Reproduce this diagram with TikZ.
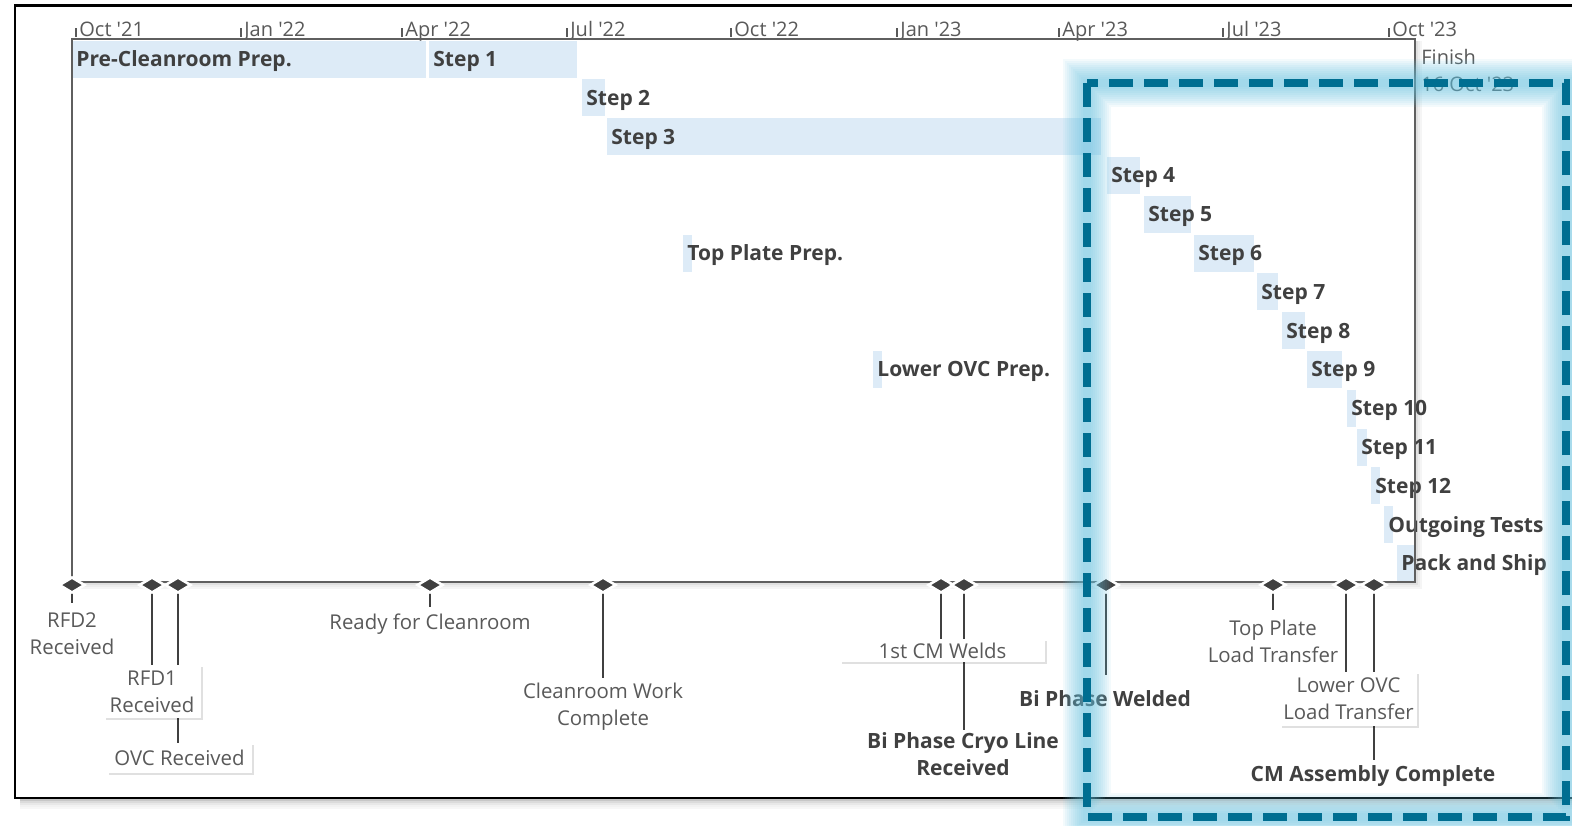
\documentclass[tikz,border=0pt]{standalone}
\usepackage{fontspec}
\setmainfont{Open Sans}[Ligatures=TeXOff]
\usetikzlibrary{shapes.geometric,shadows}
\definecolor{barblue}{RGB}{221,235,247}
\definecolor{txtdark}{RGB}{64,64,64}
\definecolor{txtgray}{RGB}{89,89,89}
\definecolor{boxline}{RGB}{95,95,95}
\definecolor{hlblue}{RGB}{0,110,145}
\definecolor{glowblue}{RGB}{100,196,226}
\pgfdeclarelayer{back}\pgfdeclarelayer{lines}\pgfdeclarelayer{front}
\pgfsetlayers{back,lines,main,front}
\newcommand\gbar[5]{%
  \fill[ganttbar] (#1,#3-18.5) rectangle (#2,#3+18.5);
  \node[steplabel] (#4) at (#1+4,#3+7.5) {#5};}
\begin{document}
\begin{tikzpicture}[x=0.5pt,y=-0.5pt,
  ganttbar/.style={fill=barblue},
  steplabel/.style={anchor=base west,inner sep=0pt,font=\fontsize{10.5}{12}\selectfont\bfseries,text=txtdark},
  axislabel/.style={anchor=base west,inner sep=0pt,font=\fontsize{10}{12}\selectfont,text=txtgray},
  axtick/.style={draw=txtgray,line width=0.6pt},
  mslabel/.style={anchor=north,inner xsep=0pt,inner ysep=#1,align=center,font=\fontsize{10.2}{13.5}\selectfont,text=txtgray},
  mslabel/.default=4pt,
  msbold/.style={mslabel=#1,font=\fontsize{10.5}{13.5}\selectfont\bfseries,text=txtdark},
  msbold/.default=4pt,
  msbox/.style={fill=white,align=center,inner sep=0pt,font=\fontsize{10.2}{13.5}\selectfont,text=txtgray,
    drop shadow={fill=black,opacity=0.12,shadow xshift=1.2pt,shadow yshift=-1.2pt}},
  msdiamond/.style={diamond,fill=txtdark,draw=white,line width=1.3pt,minimum width=13pt,minimum height=8pt,inner sep=0pt},
  leader/.style={draw=txtdark,line width=0.7pt},
  chartbox/.style={draw=boxline,line width=0.8pt},
  glowline/.style={draw=glowblue,line width=#1,opacity=0.075},
  hldash/.style={draw=hlblue,line width=3.6pt,dash pattern=on 12pt off 5.5pt}
]
\useasboundingbox (0,0) rectangle (1572,825);
\begin{pgfonlayer}{back}
  \fill[white] (0,0) rectangle (1572,825);
  \foreach \s/\o in {2/0.22,4/0.14,6/0.09,8/0.05,10/0.03}
    \draw[black,line width=1.2pt,opacity=\o] (20,798+\s) -- (1600,798+\s);
  \foreach \s/\o in {2/0.12,4/0.07,6/0.04}
    \draw[black,line width=1pt,opacity=\o] (74,582+\s) -- (1415+\s,582+\s) -- (1415+\s,41);
\end{pgfonlayer}
% outer frame
\draw[black,line width=1.25pt] (1600,5.5) -- (15,5.5) -- (15,798) -- (1600,798);
% axis labels
\foreach \x/\t [count=\i] in {76/Oct '21,241/Jan '22,402/Apr '22,567/Jul '22,731/Oct '22,897/Jan '23,1059/Apr '23,1223/Jul '23,1389/Oct '23}{
  \draw[axtick] (\x,28) -- (\x,37);
  \node[axislabel] (ax\i) at (\x+3,36) {\t};
}
% bars
\gbar{72}{426}{59.0}{pre}{Pre-Cleanroom Prep.}
\gbar{429}{577}{59.0}{s1}{Step 1}
\gbar{582}{605}{97.8}{s2}{Step 2}
\gbar{607}{1101}{136.6}{s3}{Step 3}
\gbar{1107}{1140}{175.4}{s4}{Step 4}
\gbar{1144}{1191}{214.2}{s5}{Step 5}
\gbar{1194}{1254}{253.0}{s6}{Step 6}
\gbar{683}{692}{253.0}{tpp}{Top Plate Prep.}
\gbar{1257}{1278}{291.8}{s7}{Step 7}
\gbar{1282}{1305}{330.6}{s8}{Step 8}
\gbar{1307}{1342}{369.4}{s9}{Step 9}
\gbar{873}{882}{369.4}{lop}{Lower OVC Prep.}
\gbar{1347}{1356}{408.2}{s10}{Step 10}
\gbar{1357}{1367}{447.0}{s11}{Step 11}
\gbar{1371}{1380}{485.8}{s12}{Step 12}
\gbar{1384}{1393}{524.6}{og}{Outgoing Tests}
\gbar{1397}{1415}{563.4}{ps}{Pack and Ship}
% chart box and timeline axis
\draw[chartbox] (72,582) -- (72,39) -- (1415,39) -- (1415,582) -- cycle;
% finish label
\node[anchor=north west,inner sep=0pt,align=left,font=\fontsize{10}{13.5}\selectfont,text=txtgray] (fin) at (1421,49) {Finish\\16 Oct '23};
% milestones
\node[msdiamond] (d-rfd2) at (72,585) {};
\node[msdiamond] (d-rfd1) at (152,585) {};
\node[msdiamond] (d-ovc) at (178,585) {};
\node[msdiamond] (d-rdy) at (430,585) {};
\node[msdiamond] (d-crw) at (603,585) {};
\node[msdiamond] (d-cmw) at (941,585) {};
\node[msdiamond] (d-bpc) at (964,585) {};
\node[msdiamond] (d-bpw) at (1106,585) {};
\node[msdiamond] (d-tpl) at (1273,585) {};
\node[msdiamond] (d-lol) at (1346,585) {};
\node[msdiamond] (d-cma) at (1374,585) {};
% milestone labels
\node[mslabel=4.7pt] (l-rfd2) at (72,603) {RFD2\\Received};
\node[msbox,minimum width=48.5pt,minimum height=26.5pt] (l-rfd1) at (152,691.5) {RFD1\\Received};
\node[msbox,minimum width=72.5pt,minimum height=15pt] (l-ovc) at (179.5,758) {OVC Received};
\node[mslabel=3.3pt] (l-rdy) at (430,607) {Ready for Cleanroom};
\node[mslabel=2.5pt] (l-crw) at (603,678) {Cleanroom Work\\Complete};
\node[msbox,minimum width=102.5pt,minimum height=11.5pt] (l-cmw) at (942.5,650.5) {1st CM Welds};
\node[msbold=1pt] (l-bpc) at (963,730) {Bi Phase Cryo Line\\Received};
\node[msbold=7.5pt] (l-bpw) at (1105,675) {Bi Phase Welded};
\node[mslabel=5pt] (l-tpl) at (1273,610) {Top Plate\\Load Transfer};
\node[msbox,minimum width=68.5pt,minimum height=27pt] (l-lol) at (1348.5,699) {Lower OVC\\Load Transfer};
\node[msbold=2.5pt] (l-cma) at (1373,760) {CM Assembly Complete};
% leaders
\begin{pgfonlayer}{lines}
  \draw[leader] (d-rfd2.center) -- (d-rfd2 |- l-rfd2.north);
  \draw[leader] (d-rfd1.center) -- (d-rfd1 |- l-rfd1.north);
  \draw[leader] (d-ovc.center) -- (d-ovc |- l-ovc.north);
  \draw[leader] (d-rdy.center) -- (d-rdy |- l-rdy.north);
  \draw[leader] (d-crw.center) -- (d-crw |- l-crw.north);
  \draw[leader] (d-cmw.center) -- (d-cmw |- l-cmw.north);
  \draw[leader] (d-bpc.center) -- (d-bpc |- l-bpc.north);
  \draw[leader] (d-bpw.center) -- (d-bpw |- l-bpw.north);
  \draw[leader] (d-tpl.center) -- (d-tpl |- l-tpl.north);
  \draw[leader] (d-lol.center) -- (d-lol |- l-lol.north);
  \draw[leader] (d-cma.center) -- (d-cma |- l-cma.north);
\end{pgfonlayer}
% highlight
\begin{pgfonlayer}{front}
  \foreach \w in {24pt,22pt,20pt,18pt,16pt,14pt,12pt,10pt,8pt,6pt,4pt}
    \draw[glowline=\w] (1087,83) rectangle (1566,817);
  \draw[hldash] (1087,83) rectangle (1566,817);
\end{pgfonlayer}
\end{tikzpicture}
\end{document}
